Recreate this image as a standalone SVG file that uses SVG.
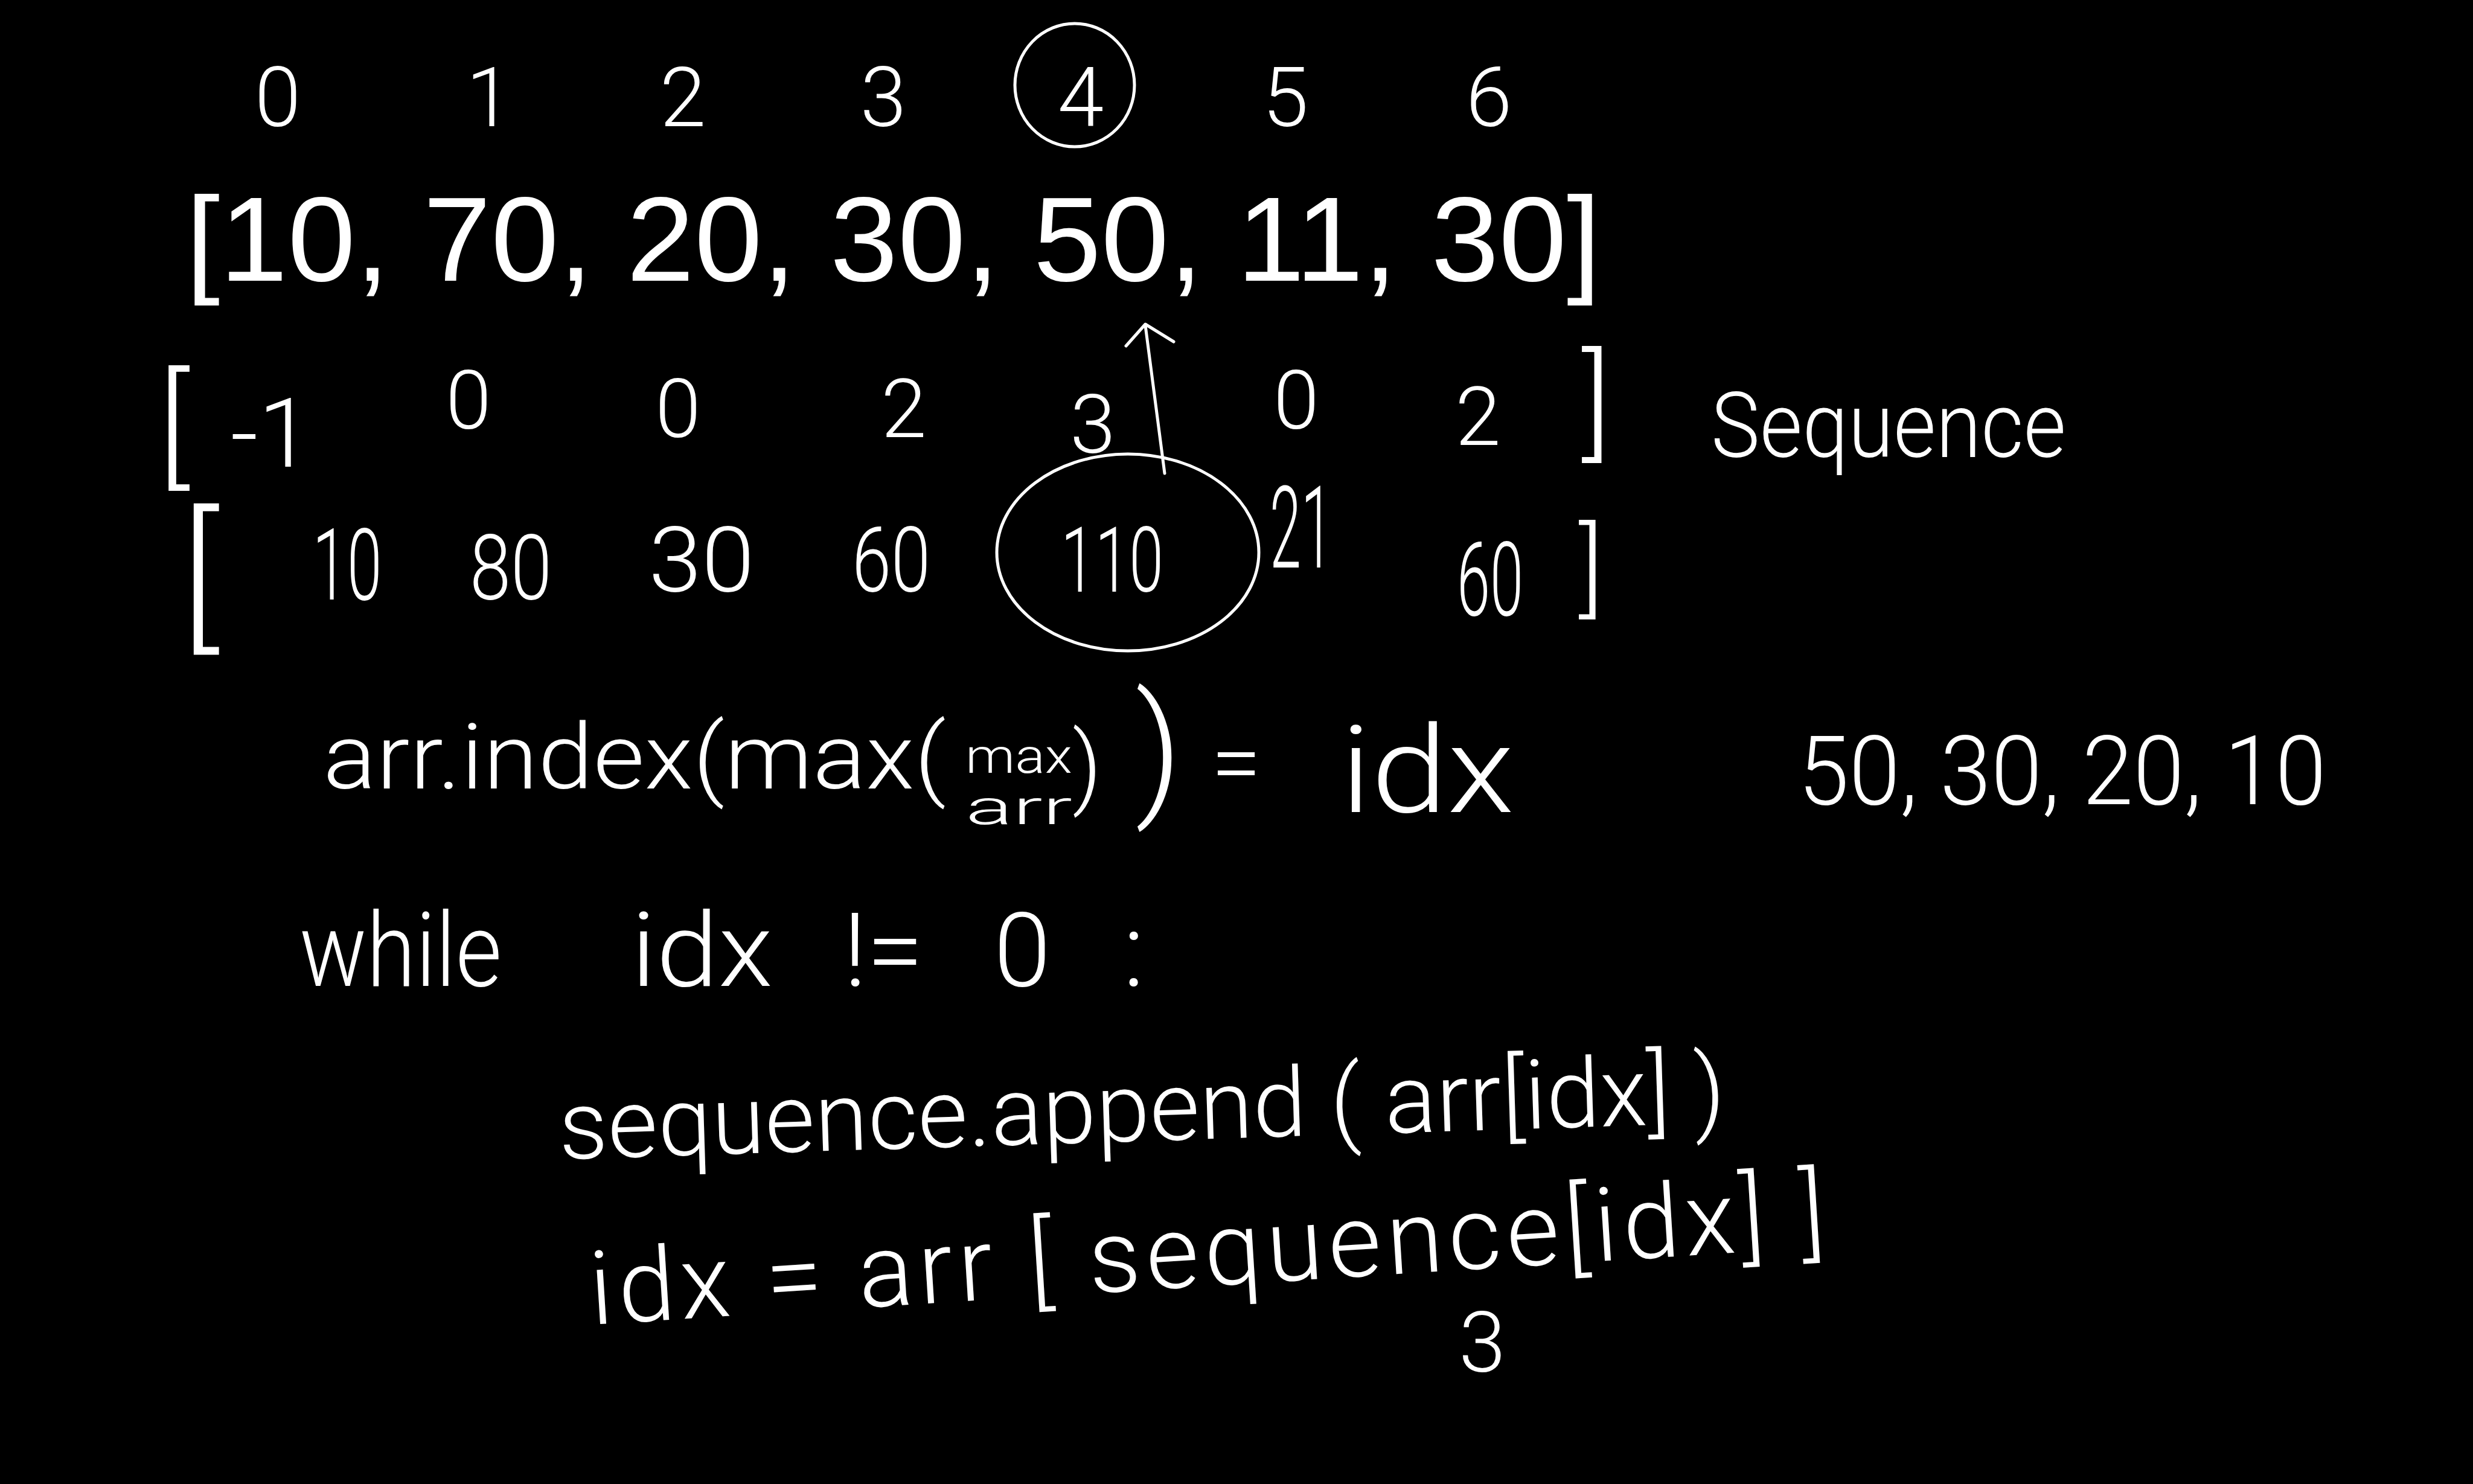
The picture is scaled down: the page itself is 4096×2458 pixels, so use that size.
<svg xmlns="http://www.w3.org/2000/svg" width="4096" height="2458" viewBox="0 0 4096 2458">
<style>
.hw{font-family:Roboto,"Liberation Sans",sans-serif;font-weight:300;fill:#fff}
.pr{font-family:"Liberation Sans",Arial,sans-serif;fill:#fff}
.mid{text-anchor:middle}
.ink{fill:none;stroke:#fff;stroke-width:5;stroke-linecap:round;stroke-linejoin:round}
</style>
<rect width="4096" height="2458" fill="#000"/>
<g id="indices" class="hw mid" font-size="138">
<text x="460" y="209">0</text>
<text x="810" y="209">1</text>
<text x="1131" y="209">2</text>
<text x="1463" y="209">3</text>
<text x="1790" y="209">4</text>
<text x="2129" y="209">5</text>
<text x="2466" y="209">6</text>
</g>
<ellipse id="circle-4" class="ink" cx="1780" cy="141" rx="99" ry="102"/>
<g id="array">
<text class="pr" x="308" y="465" font-size="198" textLength="2343" lengthAdjust="spacingAndGlyphs">[10, 70, 20, 30, 50, 11, 30]</text>
</g>
<g id="sequence-row" class="hw">
<text x="262" y="780" font-size="215">[</text>
<text class="mid" x="449" y="773" font-size="160">-1</text>
<text class="mid" x="776" y="710" font-size="136">0</text>
<text class="mid" x="1123" y="724" font-size="136">0</text>
<text class="mid" x="1497" y="724" font-size="136">2</text>
<text class="mid" x="1810" y="750" font-size="136">3</text>
<text class="mid" x="2147" y="710" font-size="136">0</text>
<text class="mid" x="2448" y="737" font-size="136">2</text>
<text x="2620" y="736" font-size="200">]</text>
<text x="2834" y="757" font-size="150" textLength="588" lengthAdjust="spacingAndGlyphs">Sequence</text>
</g>
<g id="sums-row" class="hw">
<text x="300" y="1045" font-size="260">[</text>
<text class="mid" x="575" y="993" font-size="165" textLength="115" lengthAdjust="spacingAndGlyphs">10</text>
<text class="mid" x="846" y="993" font-size="150" textLength="136" lengthAdjust="spacingAndGlyphs">80</text>
<text class="mid" x="1162" y="980" font-size="150" textLength="175" lengthAdjust="spacingAndGlyphs">30</text>
<text class="mid" x="1476" y="980" font-size="150" textLength="130" lengthAdjust="spacingAndGlyphs">60</text>
<text class="mid" x="1842" y="980" font-size="150" textLength="170" lengthAdjust="spacingAndGlyphs">110</text>
<text class="mid" x="2155" y="940" font-size="190" textLength="104" lengthAdjust="spacingAndGlyphs">21</text>
<text class="mid" x="2468" y="1019" font-size="170" textLength="110" lengthAdjust="spacingAndGlyphs">60</text>
<text x="2615" y="1000" font-size="170">]</text>
</g>
<ellipse id="circle-110" class="ink" cx="1868" cy="915" rx="217" ry="163"/>
<g id="connectors">
<path class="ink" d="M1929 784 L1897 539 M1865 573 L1897 537 L1944 566"/>
</g>
<g id="code-line-1" class="hw">
<text x="535" y="1306" font-size="150" textLength="1032" lengthAdjust="spacingAndGlyphs">arr.index(max(</text>
<text x="1599" y="1280" font-size="80" textLength="177" lengthAdjust="spacingAndGlyphs">max</text>
<text x="1599" y="1365" font-size="80" textLength="177" lengthAdjust="spacingAndGlyphs">arr</text>
<text x="1776" y="1320" font-size="150">)</text>
<text x="1880" y="1323" font-size="240">)</text>
<text x="2006" y="1315" font-size="150">=</text>
<text x="2220" y="1345" font-size="200" textLength="288" lengthAdjust="spacingAndGlyphs">idx</text>
<text x="2978" y="1332" font-size="160" textLength="875" lengthAdjust="spacingAndGlyphs">50, 30, 20, 10</text>
</g>
<g id="code-line-2" class="hw" font-size="170">
<text x="496" y="1633" textLength="335" lengthAdjust="spacingAndGlyphs">while</text>
<text x="1045" y="1633" textLength="235" lengthAdjust="spacingAndGlyphs">idx</text>
<text x="1397" y="1633">!=</text>
<text x="1646" y="1633">0</text>
<text x="1860" y="1633">:</text>
</g>
<g id="code-line-3" class="hw">
<text x="927" y="1920" font-size="160" textLength="1933" lengthAdjust="spacingAndGlyphs" transform="rotate(-1.8 927 1920)">sequence.append ( arr[idx] )</text>
</g>
<g id="code-line-4" class="hw">
<text x="980" y="2194" font-size="170" textLength="2050" lengthAdjust="spacing" transform="rotate(-3.6 980 2194)">idx = arr [ sequence[idx] ]</text>
<text class="mid" x="2455" y="2272" font-size="140">3</text>
</g>
</svg>
